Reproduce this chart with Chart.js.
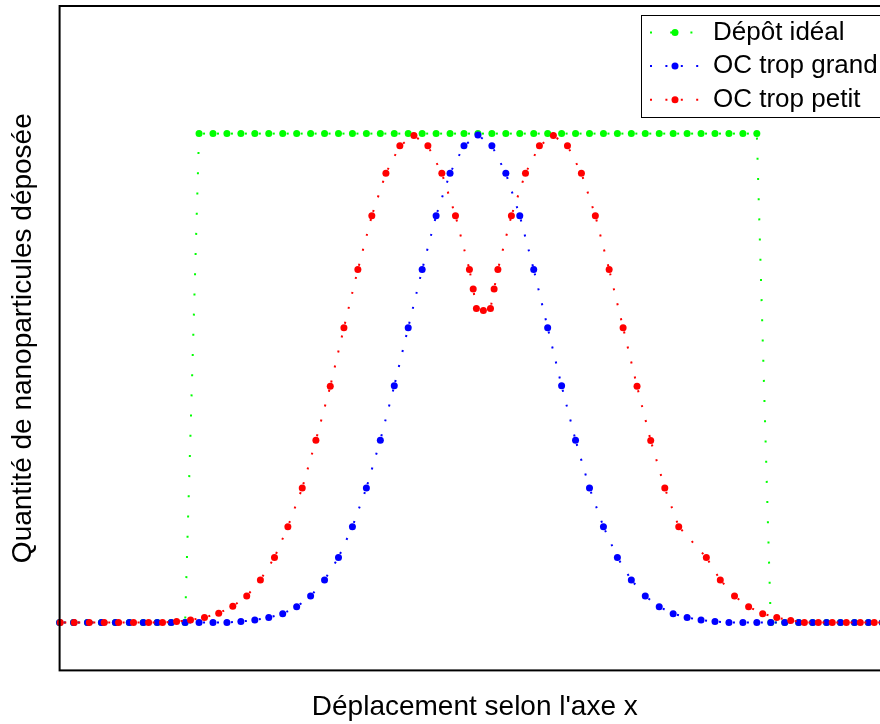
<!DOCTYPE html>
<html>
<head>
<meta charset="utf-8">
<script src="https://cdn.jsdelivr.net/npm/chart.js@4.4.1/dist/chart.umd.min.js"></script>
<style>
  html, body { margin: 0; padding: 0; background: #fff; overflow: hidden; }
  #wrap { width: 880px; height: 724px; overflow: hidden; }
  canvas { display: block; }
</style>
</head>
<body>
<div id="wrap"><canvas id="chart" width="960" height="724"></canvas></div>
<script>
// positions along x (sample units) shared by the ideal and "too big" curves
const gridX = [0, 1, 2, 3, 4, 5, 6, 7, 8, 9, 10, 11, 12, 13, 14, 15, 16, 17, 18, 19,
  20, 21, 22, 23, 24, 25, 26, 27, 28, 29, 30, 31, 32, 33, 34, 35, 36, 37, 38, 39,
  40, 41, 42, 43, 44, 45, 46, 47, 48, 49, 50, 51, 52, 53, 54, 55, 56, 57, 58, 59];

const idealY = [0, 0, 0, 0, 0, 0, 0, 0, 0, 0,
  1, 1, 1, 1, 1, 1, 1, 1, 1, 1, 1, 1, 1, 1, 1, 1, 1, 1, 1, 1,
  1, 1, 1, 1, 1, 1, 1, 1, 1, 1, 1, 1, 1, 1, 1, 1, 1, 1, 1, 1, 1,
  0, 0, 0, 0, 0, 0, 0, 0, 0];

const bigY = [0, 0, 0, 0, 0, 0, 0, 0, 0, 0, 0, 0, 0,
  0.002, 0.005, 0.010, 0.018, 0.032, 0.054, 0.087, 0.133, 0.196, 0.275, 0.373, 0.484,
  0.603, 0.722, 0.832, 0.919, 0.975, 0.997, 0.975, 0.919, 0.832, 0.722, 0.603,
  0.484, 0.373, 0.275, 0.196, 0.133, 0.087, 0.054, 0.032, 0.018, 0.010, 0.005, 0.002,
  0, 0, 0, 0, 0, 0, 0, 0, 0, 0, 0, 0];

// "too small" curve has its own sampling
const smallX = [0.05, 1.05, 2.13, 3.20, 4.23, 5.30, 6.38, 7.38, 8.39, 9.39, 10.39, 11.41,
  12.42, 13.42, 14.40, 15.41, 16.37, 17.40, 18.38, 19.41, 20.39, 21.39, 22.39, 23.40,
  24.40, 25.41, 26.41, 27.41, 28.39, 29.39, 29.66, 29.89, 30.39, 30.90, 31.16, 31.43,
  32.40, 33.41, 34.41, 35.41, 36.42, 37.42, 38.42, 39.41, 40.41, 41.41, 42.39, 43.40,
  44.40, 46.38, 47.38, 48.40, 49.41, 50.42, 51.43, 52.43, 53.41, 54.41, 55.41, 56.42,
  57.42, 58.42, 59.40];
const smallY = [0, 0, 0, 0, 0, 0, 0, 0, 0.002, 0.005, 0.010, 0.019,
  0.033, 0.054, 0.087, 0.133, 0.196, 0.275, 0.373, 0.483, 0.603, 0.722, 0.832, 0.919,
  0.975, 0.996, 0.975, 0.919, 0.832, 0.722, 0.682, 0.642, 0.638, 0.642, 0.682, 0.722,
  0.832, 0.919, 0.975, 0.996, 0.975, 0.919, 0.832, 0.722, 0.603, 0.483, 0.372, 0.275,
  0.196, 0.133, 0.087, 0.054, 0.032, 0.018, 0.010, 0.004, 0, 0, 0, 0,
  0, 0, 0];

const labels = ['Dépôt idéal', 'OC trop grand', 'OC trop petit'];
const colors = ['#00ff00', '#0000ff', '#ff0000'];

const FONT = "'Liberation Sans', Arial, Helvetica, sans-serif";
const MARKER = 3.5;

const toPoints = (xs, ys) => xs.map((x, i) => ({ x, y: ys[i] }));

// dotted line whose dot pattern restarts on every segment (like the original plot)
function dotted(label, color, xs, ys, dash, order) {
  const offset = dash[0] + dash[1] - 4;
  return {
    label,
    data: toPoints(xs, ys),
    order,
    borderColor: color,
    backgroundColor: color,
    borderWidth: 2,
    borderCapStyle: 'butt',
    borderDash: dash,
    borderDashOffset: offset,
    segment: {
      borderDashOffset: (ctx) => (ctx.p0DataIndex % 2 ? offset + 0.0001 : offset),
    },
    pointRadius: MARKER,
    pointHoverRadius: MARKER,
    pointBorderWidth: 0,
    pointBackgroundColor: color,
    tension: 0,
    fill: false,
    clip: false,
  };
}

const frameAndLegend = {
  id: 'frameAndLegend',
  afterDraw(chart) {
    const { ctx, chartArea: a } = chart;
    ctx.save();
    ctx.setLineDash([]);
    ctx.strokeStyle = '#000';
    ctx.lineWidth = 2;
    ctx.strokeRect(a.left, a.top, a.right - a.left, a.bottom - a.top);

    const lx = a.right - 248.5;
    const ly = a.top + 9.5;
    ctx.fillStyle = '#fff';
    ctx.fillRect(lx, ly, 246, 102);
    ctx.lineWidth = 1;
    ctx.strokeRect(lx, ly, 246, 102);
    ctx.font = '26px ' + FONT;
    ctx.textBaseline = 'middle';
    ctx.textAlign = 'left';
    chart.data.datasets.forEach((ds, i) => {
      const y = ly + 17 + i * 33.6;
      ctx.strokeStyle = ds.borderColor;
      ctx.lineWidth = 2;
      ctx.lineCap = 'butt';
      ctx.setLineDash(ds.borderDash);
      ctx.lineDashOffset = ds.borderDashOffset;
      ctx.beginPath();
      ctx.moveTo(lx + 4.5, y);
      ctx.lineTo(lx + 62, y);
      ctx.stroke();
      ctx.setLineDash([]);
      ctx.fillStyle = ds.pointBackgroundColor;
      ctx.beginPath();
      ctx.arc(lx + 33.5, y, MARKER, 0, Math.PI * 2);
      ctx.fill();
      ctx.fillStyle = '#000';
      ctx.fillText(ds.label, lx + 71.5, y);
    });
    ctx.restore();
  },
};

new Chart(document.getElementById('chart'), {
  type: 'line',
  data: {
    datasets: [
      dotted(labels[0], colors[0], gridX, idealY, [2, 18.2], 3),
      dotted(labels[1], colors[1], gridX, bigY, [2, 13.4], 2),
      dotted(labels[2], colors[2], smallX, smallY, [2, 13.4], 1),
    ],
  },
  options: {
    responsive: false,
    animation: false,
    devicePixelRatio: 1,
    layout: { padding: { left: 0, top: 6, right: 70, bottom: 0 }, autoPadding: false },
    plugins: { legend: { display: false }, tooltip: { enabled: false } },
    events: [],
    scales: {
      x: {
        type: 'linear',
        min: 0,
        max: 59.55,
        grid: { display: false, drawTicks: false },
        border: { display: false },
        ticks: { display: false },
        title: {
          display: true,
          text: "Déplacement selon l'axe x",
          color: '#000',
          font: { family: FONT, size: 28 },
          padding: { top: 20, bottom: 0 },
        },
      },
      y: {
        type: 'linear',
        min: -0.098,
        max: 1.261,
        grid: { display: false, drawTicks: false },
        border: { display: false },
        ticks: { display: false },
        title: {
          display: true,
          text: 'Quantité de nanoparticules déposée',
          color: '#000',
          font: { family: FONT, size: 28 },
          padding: { top: 6, bottom: 20 },
        },
      },
    },
  },
  plugins: [frameAndLegend],
});
</script>
</body>
</html>
